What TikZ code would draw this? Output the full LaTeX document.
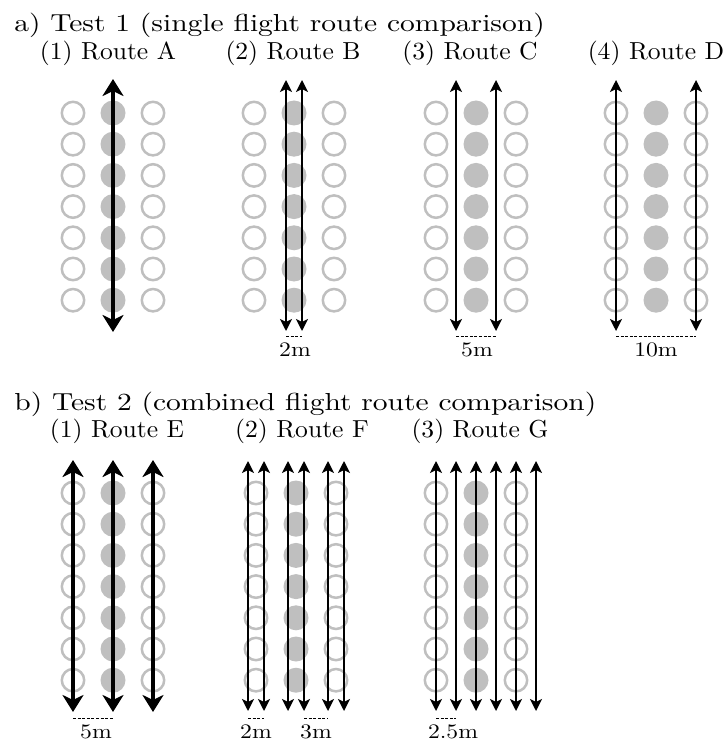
\documentclass[tikz,border=0pt]{standalone}
\usepackage{fontspec}
\setmainfont{lmroman10-regular}[Extension=.otf, FakeStretch=1.04]
\newfontfamily\headfont{lmroman10-regular}[Extension=.otf, FakeStretch=1.2]
\newfontfamily\dimfont{lmroman10-regular}[Extension=.otf, FakeStretch=1.15]
\usetikzlibrary{arrows.meta}
\definecolor{CGray}{HTML}{BFBFBF}

\begin{document}
\begin{tikzpicture}[x=0.5pt, y=-0.5pt,
    ring/.style={draw=CGray, line width=1.25pt, fill=white},
    dot/.style={fill=CGray},
    route/.style={{Stealth[length=6pt,width=6pt,inset=1.5pt]}-{Stealth[length=6pt,width=6pt,inset=1.5pt]}, line width=1pt},
    wide route/.style={{Stealth[length=8.5pt,width=10.5pt,inset=2.5pt]}-{Stealth[length=8.5pt,width=10.5pt,inset=2.5pt]}, line width=2.3pt},
    gap/.style={dash pattern=on 1.5pt off 0.8pt, line width=0.5pt},
    heading/.style={font=\headfont\fontsize{12.3}{14}\selectfont, anchor=base west, inner sep=0pt},
    routename/.style={font=\fontsize{12.3}{14}\selectfont, anchor=base, inner sep=0pt},
    dimtext/.style={font=\dimfont\fontsize{10.3}{12}\selectfont, anchor=base, inner sep=0pt}]
    \useasboundingbox (0,0) rectangle (724,743);

    % Section titles
    \node[heading] (testA) at (14,32) {a) Test 1 (single flight route comparison)};
    \node[heading] (testB) at (14,410) {b) Test 2 (combined flight route comparison)};

    % Route names
    \node[routename] (rA) at (108,60) {(1) Route A};
    \node[routename] (rB) at (293,60) {(2) Route B};
    \node[routename] (rC) at (470,60) {(3) Route C};
    \node[routename] (rD) at (656,60) {(4) Route D};
    \node[routename] (rE) at (117,437) {(1) Route E};
    \node[routename] (rF) at (302,437) {(2) Route F};
    \node[routename] (rG) at (480,437) {(3) Route G};

    % Tree rows, test 1
    \foreach \c in {113,294,476,656}
        \foreach \k in {0,...,6} {
            \draw[ring] (\c-40,113+31.2*\k) circle[radius=5.6pt];
            \fill[dot] (\c,113+31.2*\k) circle[radius=6.25pt];
            \draw[ring] (\c+40,113+31.2*\k) circle[radius=5.6pt];
        }

    % Tree rows, test 2
    \foreach \c in {113,296,476}
        \foreach \k in {0,...,6} {
            \draw[ring] (\c-40,493+31.2*\k) circle[radius=5.6pt];
            \fill[dot] (\c,493+31.2*\k) circle[radius=6.25pt];
            \draw[ring] (\c+40,493+31.2*\k) circle[radius=5.6pt];
        }

    % Flight routes, test 1
    \draw[wide route] (113,79) -- (113,332);
    \foreach \x in {286,302} \draw[route] (\x,80) -- (\x,331);
    \foreach \x in {456,496} \draw[route] (\x,80) -- (\x,331);
    \foreach \x in {616,696} \draw[route] (\x,80) -- (\x,331);

    % Flight routes, test 2
    \foreach \x in {73,113,153} \draw[wide route] (\x,460) -- (\x,712);
    \foreach \x in {248,264,288,304,328,344} \draw[route] (\x,461) -- (\x,711);
    \foreach \x in {436,456,...,536} \draw[route] (\x,461) -- (\x,711);

    % Spacings
    \draw[gap] (286,336) -- (302,336);
    \node[dimtext] (dB) at (295,356) {2m};
    \draw[gap] (456,336) -- (496,336);
    \node[dimtext] (dC) at (477,356) {5m};
    \draw[gap] (616,336) -- (696,336);
    \node[dimtext] (dD) at (656,356) {10m};
    \draw[gap] (73,718) -- (113,718);
    \node[dimtext] (dE) at (96,738) {5m};
    \draw[gap] (248,718) -- (264,718);
    \node[dimtext] (dF1) at (256,738) {2m};
    \draw[gap] (304,718) -- (328,718);
    \node[dimtext] (dF2) at (316,738) {3m};
    \draw[gap] (436,718) -- (456,718);
    \node[dimtext] (dG) at (453,738) {2.5m};
\end{tikzpicture}
\end{document}
